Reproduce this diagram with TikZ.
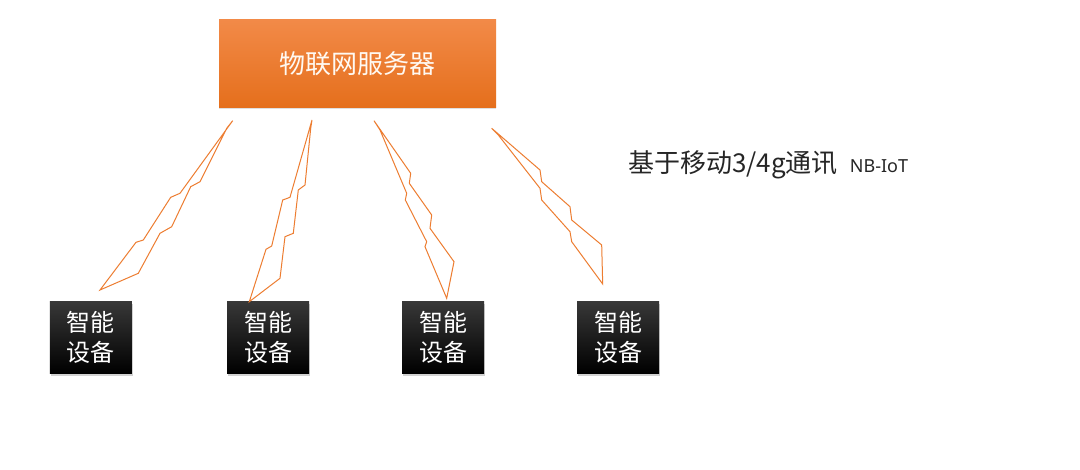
\documentclass[tikz,border=0pt]{standalone}
\usepackage{fontspec}
\newfontfamily\cjk{Noto Sans CJK SC}
\newfontfamily\latinsans{Noto Sans}
\usetikzlibrary{shadows}
\definecolor{boltc}{HTML}{ED7D31}
\definecolor{orgtop}{HTML}{F28A48}
\definecolor{orgbot}{HTML}{E56F1C}
\tikzset{
  server/.style={rectangle, top color=orgtop, bottom color=orgbot, draw=none,
    minimum width=277pt, minimum height=88pt, inner sep=0pt,
    text=white!95!orange, font=\cjk\fontsize{26}{30}\selectfont,
    drop shadow={opacity=0.25, shadow xshift=0pt, shadow yshift=-2pt}},
  device/.style={rectangle, top color=black!78, bottom color=black, draw=none,
    minimum width=82pt, minimum height=72pt, inner sep=0pt, align=center,
    text=white, font=\cjk\fontsize{24}{30}\selectfont,
    drop shadow={opacity=0.35, shadow xshift=1pt, shadow yshift=-3pt}},
  bolt/.style={draw=boltc, line width=1pt, line join=miter, fill=none},
  caption/.style={anchor=west, inner sep=0pt, text=black!85, font=\cjk\fontsize{26}{30}\selectfont}
}
\begin{document}
\begin{tikzpicture}[x=1pt,y=-1pt]
\useasboundingbox[fill=white] (0,0) rectangle (1080,469);

\node[server] (srv) at (357.7,63.3) {物联网服务器};

\node[device] (d1) at (90.8,337) {智能\\设备};
\node[device] (d2) at (268,337) {智能\\设备};
\node[device] (d3) at (443,337) {智能\\设备};
\node[device] (d4) at (618,337) {智能\\设备};

% bolt 1
\draw[bolt] (232.7,120.7) -- (180,193.3) -- (170.7,197.3) -- (143.3,240) -- (136,242.3) -- (100,290)
  -- (138.3,273.3) -- (160,233.3) -- (171.7,226.7) -- (190.7,186.7) -- (200,181.7) -- (226.7,128.3) -- cycle;
% bolt 2
\draw[bolt] (312,120) -- (290,197.3) -- (282.7,200) -- (271.7,246) -- (266,249.3) -- (249.3,301.7)
  -- (280,278.3) -- (285,236.7) -- (293.3,233.3) -- (298.3,190) -- (305,185) -- (310.7,128.3) -- cycle;
% bolt 3
\draw[bolt] (374,120.7) -- (410.7,173.3) -- (409.3,183.3) -- (431.7,215) -- (430,228.3) -- (454,261.7) -- (446.7,298.3)
  -- (425,246.7) -- (426.7,241.7) -- (405.3,200) -- (406.7,193.3) -- (380,130) -- cycle;
% bolt 4
\draw[bolt] (491.7,128.3) -- (540,170) -- (541.7,181.7) -- (570,206.7) -- (571.7,220) -- (601.7,245) -- (602.7,284)
  -- (571.7,241.7) -- (570,231.7) -- (541.7,200) -- (540,188.3) -- (498.3,135) -- cycle;

\node[caption] (cap) at (628,165) {基于移动3/4g通讯\hspace{12pt}{\latinsans\fontsize{18}{20}\selectfont NB-IoT}};
\end{tikzpicture}
\end{document}
